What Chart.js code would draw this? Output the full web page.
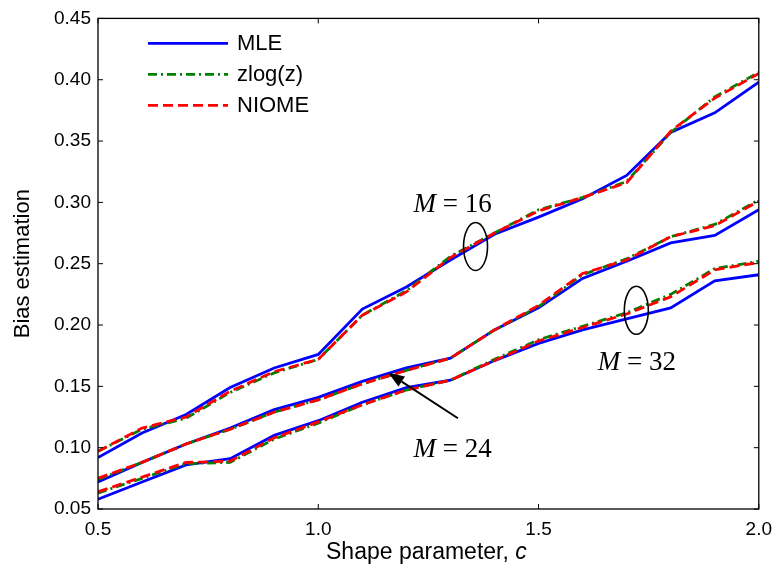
<!DOCTYPE html>
<html>
<head>
<meta charset="utf-8">
<script src="https://cdn.jsdelivr.net/npm/chart.js@4.4.1/dist/chart.umd.min.js"></script>
<style>
  html, body { margin: 0; padding: 0; background: #fff; }
  #wrap { width: 781px; height: 572px; }
</style>
</head>
<body>
<div id="wrap"><canvas id="chart" width="781" height="572"></canvas></div>
<script>
// Shape parameter c
const shapeC = [0.5, 0.6, 0.7, 0.8, 0.9, 1.0, 1.1, 1.2, 1.3, 1.4, 1.5, 1.6, 1.7, 1.8, 1.9, 2.0];

// Bias of the estimators, M = 16
const mle16   = [0.092, 0.112, 0.127, 0.149, 0.165, 0.176, 0.213, 0.231, 0.253, 0.274, 0.288, 0.303, 0.322, 0.357, 0.373, 0.398];
const zlog16  = [0.097, 0.115, 0.124, 0.145, 0.161, 0.172, 0.208, 0.228, 0.256, 0.275, 0.294, 0.304, 0.317, 0.357, 0.386, 0.406];
const niome16 = [0.097, 0.116, 0.125, 0.146, 0.162, 0.172, 0.208, 0.227, 0.255, 0.275, 0.293, 0.304, 0.316, 0.358, 0.385, 0.405];

// M = 24
const mle24   = [0.072, 0.088, 0.103, 0.116, 0.131, 0.141, 0.154, 0.165, 0.173, 0.196, 0.214, 0.238, 0.252, 0.267, 0.273, 0.294];
const zlog24  = [0.074, 0.088, 0.103, 0.115, 0.129, 0.139, 0.152, 0.163, 0.173, 0.196, 0.215, 0.241, 0.254, 0.272, 0.282, 0.302];
const niome24 = [0.075, 0.088, 0.103, 0.115, 0.129, 0.139, 0.152, 0.163, 0.173, 0.196, 0.216, 0.242, 0.253, 0.272, 0.281, 0.301];

// M = 32
const mle32   = [0.058, 0.072, 0.086, 0.091, 0.110, 0.122, 0.137, 0.149, 0.155, 0.171, 0.185, 0.196, 0.205, 0.214, 0.236, 0.241];
const zlog32  = [0.063, 0.075, 0.087, 0.088, 0.107, 0.120, 0.135, 0.147, 0.155, 0.172, 0.188, 0.199, 0.210, 0.225, 0.246, 0.252];
const niome32 = [0.064, 0.076, 0.088, 0.089, 0.108, 0.121, 0.135, 0.147, 0.155, 0.171, 0.187, 0.198, 0.209, 0.223, 0.245, 0.251];

const legendNames = ['MLE', 'zlog(z)', 'NIOME'];
const xTitleParts = ['Shape parameter, ', 'c'];
const yTitle = 'Bias estimation';

// Group annotations, in data coordinates
const groupLabels = [
  { m: '16', c: 1.305, bias: 0.298 },
  { m: '24', c: 1.305, bias: 0.098 },
  { m: '32', c: 1.723, bias: 0.169 }
];
const groupEllipses = [
  { c: 1.357, bias: 0.264 },
  { c: 1.722, bias: 0.212 }
];
const groupArrow = { fromC: 1.317, fromBias: 0.124, toC: 1.159, toBias: 0.161 };

const styles = {
  mle:   { color: '#0000ff', dash: [],           width: 2.8, order: 2 },
  zlog:  { color: '#008000', dash: [9, 4, 2, 4], width: 2.8, order: 1 },
  niome: { color: '#ff0000', dash: [10, 5],      width: 2.8, order: 0 }
};

function series(values, kind, label) {
  const s = styles[kind];
  return {
    label: label,
    data: shapeC.map((c, i) => ({ x: c, y: values[i] })),
    borderColor: s.color,
    backgroundColor: s.color,
    borderDash: s.dash,
    borderWidth: s.width,
    pointRadius: 0,
    tension: 0,
    fill: false,
    order: s.order
  };
}

const datasets = [
  series(mle16, 'mle', 'MLE (M=16)'),
  series(zlog16, 'zlog', 'zlog(z) (M=16)'),
  series(niome16, 'niome', 'NIOME (M=16)'),
  series(mle24, 'mle', 'MLE (M=24)'),
  series(zlog24, 'zlog', 'zlog(z) (M=24)'),
  series(niome24, 'niome', 'NIOME (M=24)'),
  series(mle32, 'mle', 'MLE (M=32)'),
  series(zlog32, 'zlog', 'zlog(z) (M=32)'),
  series(niome32, 'niome', 'NIOME (M=32)')
];

const SANS = '"Liberation Sans", Arial, sans-serif';
const SERIF = '"Liberation Serif", "Times New Roman", serif';

// Axes box, inward ticks, x title with italic c, legend and group notes
const decorations = {
  id: 'decorations',
  afterDraw(chart) {
    const ctx = chart.ctx;
    const a = chart.chartArea;
    const xs = chart.scales.x, ys = chart.scales.y;
    ctx.save();

    // box
    ctx.strokeStyle = '#000';
    ctx.lineWidth = 1.3;
    ctx.setLineDash([]);
    ctx.strokeRect(a.left, a.top, a.right - a.left, a.bottom - a.top);

    // inward ticks on all four sides
    const tl = 5;
    ctx.lineWidth = 1;
    ctx.beginPath();
    ys.ticks.forEach(t => {
      const py = ys.getPixelForValue(t.value);
      ctx.moveTo(a.left, py); ctx.lineTo(a.left + tl, py);
      ctx.moveTo(a.right, py); ctx.lineTo(a.right - tl, py);
    });
    xs.ticks.forEach(t => {
      const px = xs.getPixelForValue(t.value);
      ctx.moveTo(px, a.bottom); ctx.lineTo(px, a.bottom - tl);
      ctx.moveTo(px, a.top); ctx.lineTo(px, a.top + tl);
    });
    ctx.stroke();

    // x axis title, variable name in italics
    ctx.fillStyle = '#000';
    ctx.textBaseline = 'middle';
    ctx.textAlign = 'left';
    {
      const up = '23px ' + SANS, it = 'italic 23px ' + SANS;
      ctx.font = up;
      const w1 = ctx.measureText(xTitleParts[0]).width;
      ctx.font = it;
      const w2 = ctx.measureText(xTitleParts[1]).width;
      const x0 = (a.left + a.right) / 2 - (w1 + w2) / 2 - 2;
      const y = a.bottom + 44;
      ctx.font = up;
      ctx.fillText(xTitleParts[0], x0, y);
      ctx.font = it;
      ctx.fillText(xTitleParts[1], x0 + w1, y);
    }

    // legend
    const kinds = ['mle', 'zlog', 'niome'];
    const lx0 = a.left + 50, lx1 = a.left + 130, rowH = 31;
    kinds.forEach((k, i) => {
      const s = styles[k];
      const y = a.top + 25 + i * rowH;
      ctx.strokeStyle = s.color;
      ctx.lineWidth = s.width;
      ctx.setLineDash(s.dash);
      ctx.beginPath();
      ctx.moveTo(lx0, y); ctx.lineTo(lx1, y);
      ctx.stroke();
      ctx.setLineDash([]);
      ctx.fillStyle = '#000';
      ctx.font = '22px ' + SANS;
      ctx.textAlign = 'left';
      ctx.textBaseline = 'middle';
      ctx.fillText(legendNames[i], lx1 + 9, y + 1);
    });

    // group labels "M = n"
    ctx.fillStyle = '#000';
    ctx.textBaseline = 'middle';
    ctx.textAlign = 'left';
    groupLabels.forEach(g => {
      const cx = xs.getPixelForValue(g.c), cy = ys.getPixelForValue(g.bias);
      const italic = 'italic 27px ' + SERIF, upright = '27px ' + SERIF;
      const rest = ' = ' + g.m;
      ctx.font = italic;
      const w1 = ctx.measureText('M').width;
      ctx.font = upright;
      const w2 = ctx.measureText(rest).width;
      const x0 = cx - (w1 + w2) / 2;
      ctx.font = italic;
      ctx.fillText('M', x0, cy);
      ctx.font = upright;
      ctx.fillText(rest, x0 + w1, cy);
    });

    // ellipses
    ctx.strokeStyle = '#000';
    ctx.lineWidth = 1.6;
    groupEllipses.forEach(e => {
      const cx = xs.getPixelForValue(e.c), cy = ys.getPixelForValue(e.bias);
      ctx.beginPath();
      ctx.ellipse(cx, cy, 12, 24, 0, 0, Math.PI * 2);
      ctx.stroke();
    });

    // arrow
    const fx = xs.getPixelForValue(groupArrow.fromC), fy = ys.getPixelForValue(groupArrow.fromBias);
    const tx = xs.getPixelForValue(groupArrow.toC), ty = ys.getPixelForValue(groupArrow.toBias);
    const ang = Math.atan2(ty - fy, tx - fx);
    const headLen = 16, headHalf = 6;
    const bx = tx - headLen * Math.cos(ang), by = ty - headLen * Math.sin(ang);
    ctx.lineWidth = 2;
    ctx.beginPath();
    ctx.moveTo(fx, fy); ctx.lineTo(bx, by);
    ctx.stroke();
    ctx.beginPath();
    ctx.moveTo(tx, ty);
    ctx.lineTo(bx + headHalf * Math.sin(ang), by - headHalf * Math.cos(ang));
    ctx.lineTo(bx - headHalf * Math.sin(ang), by + headHalf * Math.cos(ang));
    ctx.closePath();
    ctx.fill();

    ctx.restore();
  }
};

new Chart(document.getElementById('chart'), {
  type: 'line',
  data: { datasets: datasets },
  options: {
    responsive: false,
    animation: false,
    devicePixelRatio: 1,
    layout: { padding: { left: 0, right: 18, top: 15, bottom: 0 } },
    plugins: { legend: { display: false }, tooltip: { enabled: false } },
    scales: {
      x: {
        type: 'linear',
        min: 0.5, max: 2.0,
        grid: { display: false, drawTicks: false },
        border: { display: false },
        ticks: {
          stepSize: 0.5,
          padding: 9,
          color: '#000',
          font: { family: SANS, size: 19 },
          maxRotation: 0,
          callback: v => Number(v).toFixed(1)
        },
        title: { display: false },
        afterFit: s => { s.height = 63; }
      },
      y: {
        min: 0.05, max: 0.45,
        grid: { display: false, drawTicks: false },
        border: { display: false },
        ticks: {
          stepSize: 0.05,
          padding: 7,
          color: '#000',
          font: { family: SANS, size: 19 },
          callback: v => Number(v).toFixed(2)
        },
        title: {
          display: true,
          text: yTitle,
          color: '#000',
          font: { family: SANS, size: 22 },
          padding: { top: 10, bottom: 10 }
        },
        afterFit: s => { s.width = 98; }
      }
    }
  },
  plugins: [decorations]
});
</script>
</body>
</html>
